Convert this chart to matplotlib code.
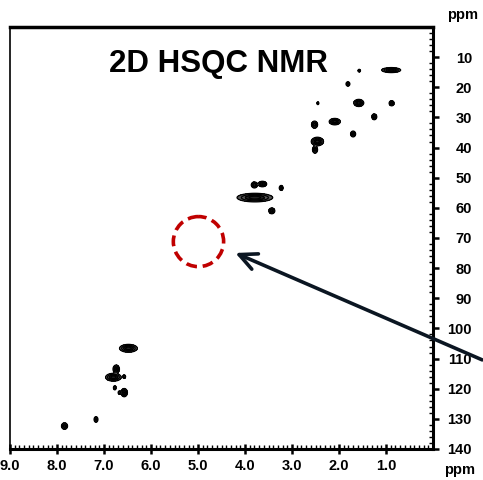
import numpy as np
import matplotlib
matplotlib.use("Agg")
import matplotlib.pyplot as plt
from matplotlib.patches import Ellipse
from matplotlib.ticker import MultipleLocator

plt.rcParams['font.family'] = ['Liberation Sans', 'DejaVu Sans']
plt.rcParams['font.weight'] = 'bold'

# cross peaks: 1H shift (ppm), 13C shift (ppm), half widths, relative intensity
h_shift = [0.89, 1.57, 1.81, 2.45, 1.58, 0.88, 1.25, 2.52, 2.09, 1.70, 2.46, 2.51,
           3.80, 3.63, 3.23, 3.79, 3.43,
           6.48, 6.74, 6.80, 6.57, 6.77, 6.57, 6.67, 7.17, 7.84]
c_shift = [14.3, 14.5, 18.9, 25.3, 25.2, 25.3, 29.8, 32.4, 31.4, 35.5, 38.0, 40.7,
           52.4, 52.1, 53.4, 56.6, 61.0,
           106.6, 113.5, 116.2, 116.0, 119.7, 121.3, 121.3, 130.2, 132.4]
h_width = [0.085, 0.015, 0.02, 0.012, 0.045, 0.025, 0.025, 0.03, 0.05, 0.025, 0.055, 0.025,
           0.03, 0.04, 0.02, 0.16, 0.03,
           0.08, 0.03, 0.07, 0.015, 0.015, 0.03, 0.015, 0.02, 0.03]
c_width = [0.35, 0.25, 0.35, 0.25, 0.5, 0.4, 0.45, 0.55, 0.45, 0.45, 0.6, 0.55,
           0.45, 0.4, 0.4, 0.6, 0.45,
           0.55, 0.6, 0.55, 0.3, 0.35, 0.6, 0.3, 0.45, 0.5]
intensity = [1.0, 0.3, 0.5, 0.3, 1.0, 0.6, 0.6, 0.6, 1.0, 0.6, 1.0, 0.6,
             0.7, 0.8, 0.5, 1.0, 0.6,
             1.0, 0.8, 1.0, 0.4, 0.4, 0.8, 0.4, 0.5, 0.6]

x_ticks = [9, 8, 7, 6, 5, 4, 3, 2, 1]
x_labels = ["9.0", "8.0", "7.0", "6.0", "5.0", "4.0", "3.0", "2.0", "1.0"]
y_ticks = list(range(10, 141, 10))

fig = plt.figure(figsize=(4.83, 4.80), dpi=100)
ax = fig.add_axes([0.0207, 0.0646, 0.8758, 0.8792])

# build spectrum from peaks
hx = np.linspace(0, 9, 1800)
cy = np.linspace(0, 140, 1400)
H, C = np.meshgrid(hx, cy)
Z = np.zeros_like(H)
for x0, y0, wx, wy, a in zip(h_shift, c_shift, h_width, c_width, intensity):
    Z += a * np.exp(-0.5 * ((H - x0) / wx) ** 2 - 0.5 * ((C - y0) / wy) ** 2)

ax.contourf(H, C, Z, levels=[0.06, 0.45, 100], colors=['#555555', '#222222'])
ax.contour(H, C, Z, levels=[0.06, 0.2, 0.45, 0.75], colors='black', linewidths=0.9)

ax.set_xlim(9, 0)
ax.set_ylim(140, 0)

# region of interest
ax.add_patch(Ellipse((4.99, 71.2), 1.07, 16.6, fill=False, edgecolor='#c00000',
                     linestyle=(0, (3, 1.6)), linewidth=2.6))
ax.annotate("", xy=(4.26, 74.6), xytext=(-1.1, 110.8),
            arrowprops=dict(arrowstyle='->,head_length=1.25,head_width=0.6',
                            color='#0b1622', lw=2.6),
            annotation_clip=False)

ax.text(0.494, 0.912, "2D HSQC NMR", transform=ax.transAxes, ha='center', va='center',
        fontsize=22.5, fontweight='bold')

ax.yaxis.tick_right()
ax.set_xticks(x_ticks)
ax.set_xticklabels(x_labels)
ax.set_yticks(y_ticks)
ax.xaxis.set_minor_locator(MultipleLocator(0.1))
ax.yaxis.set_minor_locator(MultipleLocator(2))
ax.tick_params(axis='x', which='major', direction='inout', length=7, width=1.8,
               labelsize=10.5, pad=4)
ax.tick_params(axis='x', which='minor', direction='in', length=3, width=1)
ax.tick_params(axis='y', which='major', direction='out', length=4, width=1.8,
               labelsize=10.5, pad=24)
ax.tick_params(axis='y', which='minor', direction='in', length=3, width=1)
for lab in ax.get_yticklabels():
    lab.set_horizontalalignment('right')

for side, lw in [('left', 1.2), ('top', 2.5), ('right', 2.2), ('bottom', 2.2)]:
    ax.spines[side].set_linewidth(lw)

fig.text(463 / 483, 1 - 15 / 480, "ppm", ha='center', va='center', fontsize=10.5,
         fontweight='bold')
fig.text(460 / 483, 1 - 470 / 480, "ppm", ha='center', va='center', fontsize=10.5,
         fontweight='bold')

fig.savefig("out.png", dpi=100)
